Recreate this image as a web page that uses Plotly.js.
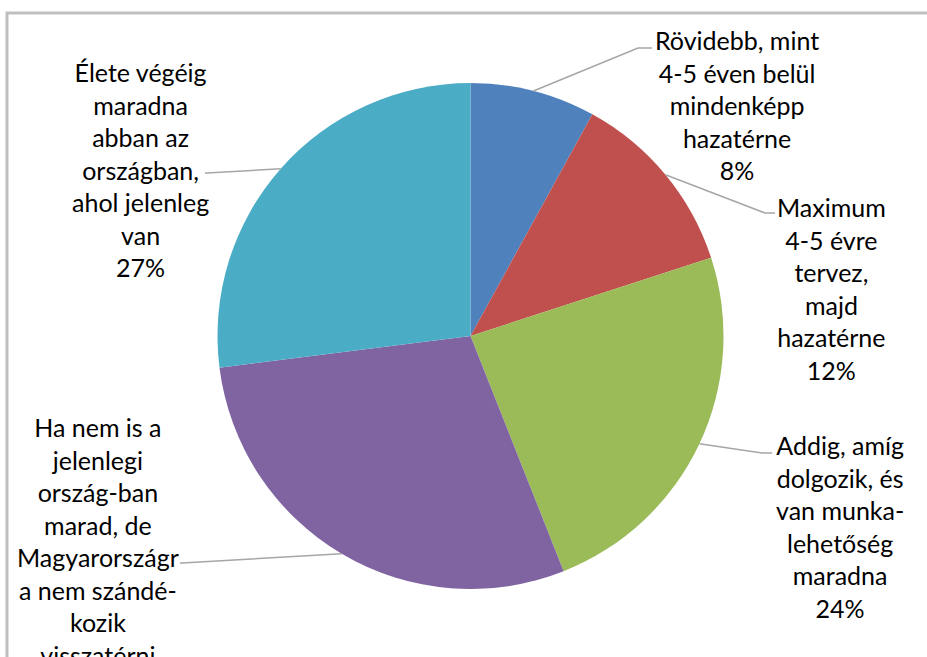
<!DOCTYPE html>
<html>
<head>
<meta charset="utf-8">
<script src="https://cdn.plot.ly/plotly-3.0.1.min.js"></script>
<style>html,body{margin:0;padding:0;background:#fff;}#chart{width:927px;height:657px;}</style>
</head>
<body>
<div id="chart"></div>
<script>
// ---- data ----
const categories = [
  "Rövidebb, mint<br>4-5 éven belül<br>mindenképp<br>hazatérne",
  "Maximum<br>4-5 évre<br>tervez,<br>majd<br>hazatérne",
  "Addig, amíg<br>dolgozik, és<br>van munka-<br>lehetőség<br>maradna",
  "Ha nem is a<br>jelenlegi<br>ország-ban<br>marad, de<br>Magyarországr<br>a nem szándé-<br>kozik<br>visszatérni",
  "Élete végéig<br>maradna<br>abban az<br>országban,<br>ahol jelenleg<br>van"
];
const values = [8, 12, 24, 29, 27];
const colors = ["#4F81BD", "#C0504D", "#9BBB59", "#8064A2", "#4BACC6"];

// ---- layout constants (pixels) ----
const W = 927, H = 657;
const CX = 470.5, CY = 336, R = 253;
const px = x => x / W;
const py = y => 1 - y / H;

// label centres and leader elbows/ends (pixels)
const labelPos = [[737, 105], [831, 288], [840, 526], [98, 557], [140, 169]];
const elbows = [[[638, 48], [652, 48]], [[765, 213], [775, 213]], [[762, 453], [772, 453]], [[182, 563], [180, 563]], [[207, 173], [205, 173]]];

const total = values.reduce((a, b) => a + b, 0);
let cum = 0;
const shapes = [];
const annotations = [];
values.forEach((v, i) => {
  const f = (cum + v / 2) / total;
  cum += v;
  const th = 2 * Math.PI * f;
  const ax = CX + R * Math.sin(th), ay = CY - R * Math.cos(th);
  const e = elbows[i];
  shapes.push({
    type: "path", xref: "paper", yref: "paper",
    path: `M ${px(ax)} ${py(ay)} L ${px(e[0][0])} ${py(e[0][1])} L ${px(e[1][0])} ${py(e[1][1])}`,
    line: {color: "#a6a6a6", width: 1.5}
  });
  annotations.push({
    xref: "paper", yref: "paper", x: px(labelPos[i][0]), y: py(labelPos[i][1]),
    xanchor: "center", yanchor: "middle", align: "center", showarrow: false,
    text: categories[i] + "<br>" + Math.round(v / total * 100) + "%",
    font: {family: "Lato, 'Open Sans', sans-serif", size: 25, color: "#000"}
  });
});

// outer frame
shapes.push({type: "rect", xref: "paper", yref: "paper",
  x0: px(7), x1: px(1000), y0: py(13), y1: py(900),
  line: {color: "#bfbfbf", width: 3}, fillcolor: "rgba(0,0,0,0)"});

const trace = {
  type: "pie",
  values: values,
  labels: categories,
  sort: false,
  direction: "clockwise",
  rotation: 0,
  textinfo: "none",
  hoverinfo: "none",
  marker: {colors: colors, line: {width: 0}},
  domain: {x: [px(CX - R), px(CX + R)], y: [py(CY + R), py(CY - R)]},
  showlegend: false
};

Plotly.newPlot("chart", [trace], {
  width: W, height: H,
  margin: {l: 0, r: 0, t: 0, b: 0},
  paper_bgcolor: "#fff",
  showlegend: false,
  shapes: shapes,
  annotations: annotations
}, {staticPlot: true});
</script>
</body>
</html>
